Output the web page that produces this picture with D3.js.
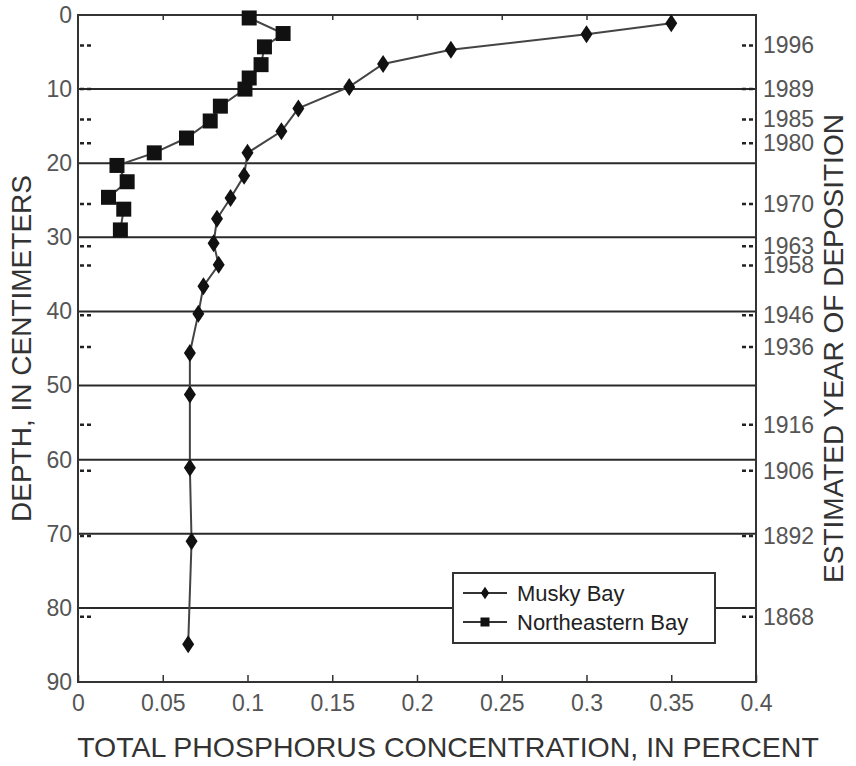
<!DOCTYPE html>
<html lang="en">

<head>
  <meta charset="UTF-8">
  <title>Total phosphorus by depth</title>
  <script src="https://d3js.org/d3.v7.min.js"></script>
  <style>
    body { margin: 0; background: #fff; }
    text { font-family: "Liberation Sans", Arial, sans-serif; }
    .tk text { font-family: "Liberation Sans Narrow", "Arial Narrow", "Liberation Sans", sans-serif; }
  </style>
</head>

<body>
  <script>
    // Musky Bay (diamonds)
    const muskyDepth = [1.1, 2.6, 4.7, 6.6, 9.7, 12.6, 15.7, 18.6, 21.7, 24.7, 27.5, 30.8, 33.7, 36.6, 40.3, 45.6, 51.2, 61.1, 71.0, 84.9];
    const muskyP = [0.350, 0.300, 0.220, 0.180, 0.160, 0.130, 0.120, 0.100, 0.098, 0.090, 0.082, 0.080, 0.083, 0.074, 0.071, 0.066, 0.066, 0.066, 0.067, 0.065];

    // Northeastern Bay (squares)
    const neDepth = [0.4, 2.5, 4.3, 6.7, 8.5, 10.0, 12.3, 14.3, 16.6, 18.6, 20.3, 22.5, 24.6, 26.2, 29.0];
    const neP = [0.101, 0.121, 0.110, 0.108, 0.101, 0.0985, 0.084, 0.078, 0.064, 0.045, 0.023, 0.029, 0.018, 0.027, 0.025];

    // estimated year of deposition, right axis
    const years = [1996, 1989, 1985, 1980, 1970, 1963, 1958, 1946, 1936, 1916, 1906, 1892, 1868];
    const yearDepth = [4.1, 10, 14.1, 17.3, 25.5, 31.2, 33.8, 40.5, 44.8, 55.3, 61.5, 70.3, 81.2];

    const xTicks = [0, 0.05, 0.1, 0.15, 0.2, 0.25, 0.3, 0.35, 0.4];
    const depthTicks = [0, 10, 20, 30, 40, 50, 60, 70, 80, 90];

    const w = 856, h = 766;
    const pLeft = 78, pRight = 756, pTop = 15, pBottom = 682;

    const x = d3.scaleLinear().domain([0, 0.4]).range([pLeft, pRight]);
    const y = d3.scaleLinear().domain([0, 90]).range([pTop, pBottom]);

    const svg = d3.select('body').append('svg')
      .attr('width', w)
      .attr('height', h);

    // horizontal grid lines
    svg.selectAll('.grid')
      .data(depthTicks.slice(1, -1))
      .enter().append('line')
      .attr('x1', pLeft).attr('x2', pRight)
      .attr('y1', d => y(d)).attr('y2', d => y(d))
      .attr('stroke', '#2a2a2a').attr('stroke-width', 2);

    // frame
    svg.append('rect')
      .attr('x', pLeft).attr('y', pTop)
      .attr('width', pRight - pLeft).attr('height', pBottom - pTop)
      .attr('fill', 'none').attr('stroke', '#333').attr('stroke-width', 2);

    // x axis (bottom), ticks inward
    const xAxis = svg.append('g').attr('class', 'tk')
      .attr('transform', `translate(0,${pBottom})`)
      .call(d3.axisBottom(x).tickValues(xTicks).tickSizeInner(-7).tickSizeOuter(0)
        .tickFormat(d => d3.format('')(d)));
    xAxis.select('.domain').remove();
    xAxis.selectAll('line').attr('stroke', '#333').attr('stroke-width', 1.5);
    xAxis.selectAll('text').attr('font-size', 23).attr('fill', '#555').attr('dy', '0.71em')
      .attr('y', 13);

    // top ticks
    const topAxis = svg.append('g')
      .attr('transform', `translate(0,${pTop})`)
      .call(d3.axisTop(x).tickValues(xTicks.slice(1, -1)).tickSizeInner(-5).tickSizeOuter(0).tickFormat(''));
    topAxis.select('.domain').remove();
    topAxis.selectAll('line').attr('stroke', '#333').attr('stroke-width', 1.5);

    // y axis labels (left)
    const yAxis = svg.append('g').attr('class', 'tk')
      .attr('transform', `translate(${pLeft},0)`)
      .call(d3.axisLeft(y).tickValues(depthTicks).tickSize(0).tickPadding(6));
    yAxis.select('.domain').remove();
    yAxis.selectAll('text').attr('font-size', 23).attr('fill', '#555');

    // year labels (right)
    const yearAxis = svg.append('g').attr('class', 'tk')
      .attr('transform', `translate(${pRight},0)`)
      .call(d3.axisRight(y).tickValues(yearDepth).tickSize(0).tickPadding(7)
        .tickFormat((d, i) => years[i]));
    yearAxis.select('.domain').remove();
    yearAxis.selectAll('text').attr('font-size', 23).attr('fill', '#555');

    // dashed dating marks on both sides
    svg.selectAll('.markL')
      .data(yearDepth)
      .enter().append('line')
      .attr('x1', pLeft + 2).attr('x2', pLeft + 14)
      .attr('y1', d => y(d)).attr('y2', d => y(d))
      .attr('stroke', '#222').attr('stroke-width', 2.5).attr('stroke-dasharray', '4,3');
    svg.selectAll('.markR')
      .data(yearDepth)
      .enter().append('line')
      .attr('x1', pRight - 14).attr('x2', pRight)
      .attr('y1', d => y(d)).attr('y2', d => y(d))
      .attr('stroke', '#222').attr('stroke-width', 2.5).attr('stroke-dasharray', '4,3');

    // axis titles
    svg.append('text')
      .attr('x', 448).attr('y', 757)
      .attr('text-anchor', 'middle').attr('font-size', 28.5).attr('fill', '#333')
      .text('TOTAL PHOSPHORUS CONCENTRATION, IN PERCENT');
    svg.append('text')
      .attr('transform', `translate(31,${(pTop + pBottom) / 2}) rotate(-90)`)
      .attr('text-anchor', 'middle').attr('font-size', 28).attr('fill', '#333')
      .text('DEPTH, IN CENTIMETERS');
    svg.append('text')
      .attr('transform', `translate(843,${(pTop + pBottom) / 2}) rotate(-90)`)
      .attr('text-anchor', 'middle').attr('font-size', 28).attr('fill', '#333')
      .text('ESTIMATED YEAR OF DEPOSITION');

    const diamond = 'M0,-9L6,0L0,9L-6,0Z';
    const square = 'M-7.5,-7.5H7.5V7.5H-7.5Z';

    const line = d3.line().x(d => x(d[0])).y(d => y(d[1]));
    const musky = muskyP.map((p, i) => [p, muskyDepth[i]]);
    const ne = neP.map((p, i) => [p, neDepth[i]]);

    svg.append('path').datum(musky)
      .attr('d', line).attr('fill', 'none').attr('stroke', '#444').attr('stroke-width', 2);
    svg.append('path').datum(ne)
      .attr('d', line).attr('fill', 'none').attr('stroke', '#444').attr('stroke-width', 2);

    svg.selectAll('.dia')
      .data(musky)
      .enter().append('path')
      .attr('d', diamond)
      .attr('transform', d => `translate(${x(d[0])},${y(d[1])})`)
      .attr('fill', '#111');
    svg.selectAll('.sq')
      .data(ne)
      .enter().append('path')
      .attr('d', square)
      .attr('transform', d => `translate(${x(d[0])},${y(d[1])})`)
      .attr('fill', '#111');

    // legend
    const lg = svg.append('g').attr('transform', 'translate(453,573)');
    lg.append('rect')
      .attr('width', 262).attr('height', 70)
      .attr('fill', '#fff').attr('stroke', '#333').attr('stroke-width', 2);
    const entries = [['Musky Bay', diamond], ['Northeastern Bay', square]];
    entries.forEach((e, i) => {
      const ly = 20 + i * 29;
      lg.append('line').attr('x1', 10).attr('x2', 54).attr('y1', ly).attr('y2', ly)
        .attr('stroke', '#333').attr('stroke-width', 2);
      lg.append('path').attr('d', e[1])
        .attr('transform', `translate(32,${ly}) scale(${i ? 0.6 : 0.7})`)
        .attr('fill', '#111');
      lg.append('text').attr('x', 64).attr('y', ly + 8)
        .attr('font-size', 22).attr('fill', '#222').text(e[0]);
    });
  </script>
</body>

</html>
